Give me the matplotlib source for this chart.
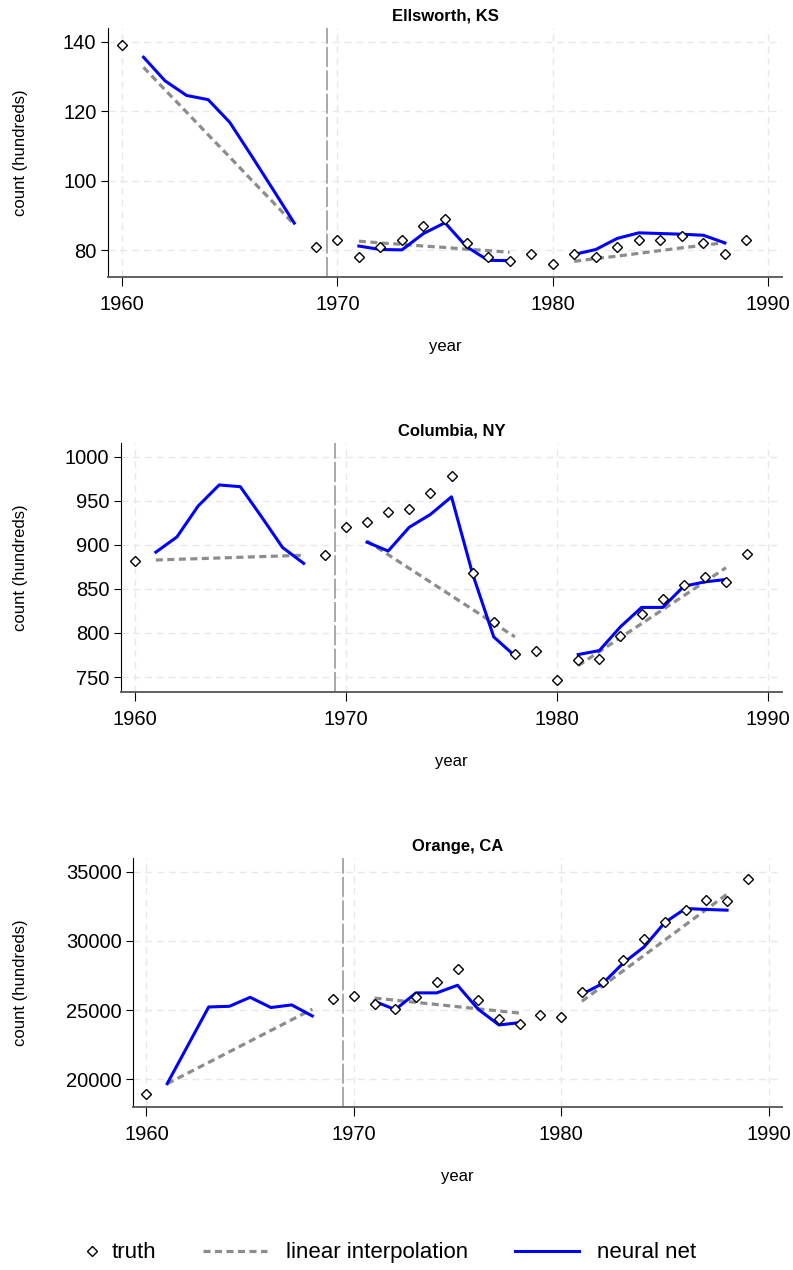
import numpy as np
import matplotlib
matplotlib.use("Agg")
import matplotlib.pyplot as plt
from matplotlib.lines import Line2D
from matplotlib.legend_handler import HandlerBase

plt.rcParams['font.family'] = ['Liberation Sans', 'DejaVu Sans']

nan = np.nan
years = np.arange(1960, 1990)

titles = ["Ellsworth, KS", "Columbia, NY", "Orange, CA"]
ylabel = "count (hundreds)"
xlabel = "year"
x_ticks = [1960, 1970, 1980, 1990]
break_year = 1969.5

# --- Ellsworth, KS ---
ellsworth_truth = [139, nan, nan, nan, nan, nan, nan, nan, nan, 81,
                   83, 78, 81, 83, 87, 89, 82, 78, 77, 79,
                   76, 79, 78, 81, 83, 83, 84, 82, 79, 83]
ellsworth_interp = [nan, 132.6, 126.1, 119.7, 113.2, 106.8, 100.3, 93.9, 87.4, nan,
                    nan, 82.6, 82.1, 81.7, 81.2, 80.8, 80.3, 79.9, 79.4, nan,
                    nan, 76.8, 77.6, 78.3, 79.1, 79.9, 80.7, 81.4, 82.2, nan]
ellsworth_nn = [nan, 135.5, 128.7, 124.5, 123.3, 116.8, 107.3, 97.6, 87.8, nan,
                nan, 81.2, 80.2, 80.1, 84.8, 87.9, 81.0, 77.1, 77.0, nan,
                nan, 78.8, 80.2, 83.4, 85.0, 84.8, 84.6, 84.3, 82.1, nan]
ellsworth_yticks = [80, 100, 120, 140]

# --- Columbia, NY ---
columbia_truth = [882, nan, nan, nan, nan, nan, nan, nan, nan, 889,
                  920, 926, 937, 941, 959, 978, 868, 812, 776, 780,
                  747, 769, 770, 797, 822, 838, 854, 864, 858, 890]
columbia_interp = [nan, 882.8, 883.6, 884.3, 885.1, 885.9, 886.7, 887.4, 888.2, nan,
                   nan, 904.4, 888.9, 873.3, 857.8, 842.2, 826.7, 811.1, 795.6, nan,
                   nan, 762.9, 778.8, 794.7, 810.6, 826.4, 842.3, 858.2, 874.1, nan]
columbia_nn = [nan, 891.7, 909, 944, 968, 966, 932, 897, 879, nan,
               nan, 903, 893, 920, 934.5, 954.5, 867, 795.5, 774, nan,
               nan, 775.5, 780, 807, 829, 829, 853, 858, 860.7, nan]
columbia_yticks = [750, 800, 850, 900, 950, 1000]

# --- Orange, CA ---
orange_truth = [18915, nan, nan, nan, nan, nan, nan, nan, nan, 25840,
                26030, 25480, 25065, 25930, 27070, 27980, 25770, 24340, 23980, 24630,
                24535, 26295, 27070, 28610, 30130, 31340, 32230, 32950, 32880, 34495]
orange_interp = [nan, 19684, 20454, 21223, 21993, 22762, 23532, 24301, 25071, nan,
                 nan, 25874, 25719, 25563, 25408, 25252, 25097, 24941, 24786, nan,
                 nan, 25642, 26748, 27855, 28962, 30069, 31175, 32282, 33389, nan]
orange_nn = [nan, 19690, 22460, 25230, 25280, 25930, 25190, 25380, 24580, nan,
             nan, 25640, 25040, 26250, 26250, 26800, 25065, 23930, 24100, nan,
             nan, 26150, 26925, 28415, 29575, 31340, 32350, 32280, 32230, nan]
orange_yticks = [20000, 25000, 30000, 35000]

panels = [
    (ellsworth_truth, ellsworth_interp, ellsworth_nn, ellsworth_yticks, (72.3, 143.9)),
    (columbia_truth, columbia_interp, columbia_nn, columbia_yticks, (733, 1015.6)),
    (orange_truth, orange_interp, orange_nn, orange_yticks, (18000, 36000)),
]

W, H = 793, 1270
fig = plt.figure(figsize=(W / 100, H / 100), dpi=100)
fig.patch.set_facecolor("white")

# plot regions in pixels: left, right, top, bottom
boxes = [(108, 782, 28, 277), (121, 782, 443, 692), (133, 782, 858, 1107)]

grid_kw = dict(color="#e8e8e8", lw=1.0, ls=(0, (5, 3.5)), zorder=0)
truth_kw = dict(ls="none", marker="D", ms=5.0, mfc="white", mec="black", mew=1.0, zorder=5)
interp_kw = dict(color="#8c8c8c", lw=2.3, ls=(0, (2.2, 1.4)), zorder=3)
nn_kw = dict(color="#0000ff", lw=2.2, zorder=4)

for (truth, interp, nn, yt, ylim), title, (l, r, t, b) in zip(panels, titles, boxes):
    ax = fig.add_axes([l / W, 1 - b / H, (r - l) / W, (b - t) / H])
    ax.set_xlim(1959.35, 1990.65)
    ax.set_ylim(*ylim)
    ax.set_xticks(x_ticks)
    ax.set_yticks(yt)
    for xv in x_ticks:
        ax.axvline(xv, **grid_kw)
    for yv in yt:
        ax.axhline(yv, **grid_kw)
    ax.axvline(break_year, color="#9a9a9a", lw=1.2, ls=(0, (12, 2)), zorder=1)

    ax.plot(years, interp, **interp_kw)
    ax.plot(years, nn, **nn_kw)
    ax.plot(years, truth, **truth_kw)

    for side in ("top", "right"):
        ax.spines[side].set_visible(False)
    ax.spines["left"].set_color("black")
    ax.spines["left"].set_linewidth(0.8)
    ax.spines["bottom"].set_color("#606060")
    ax.spines["bottom"].set_linewidth(1.4)
    ax.tick_params(axis="x", direction="out", length=6.3, width=0.8, pad=6.5,
                   labelsize=14.5, colors="black")
    ax.tick_params(axis="y", direction="out", length=5.3, width=0.8, pad=3.0,
                   labelsize=14.5, colors="black")

    ax.set_title(title, fontsize=12, fontweight="bold", pad=5.3)
    ax.set_xlabel(xlabel, fontsize=12, labelpad=18.5)
    ax.set_ylabel(ylabel, fontsize=12)
    yc = 1 - (t + b) / 2 / H
    ax.yaxis.set_label_coords(0.035, yc, transform=fig.transFigure)


class RightDiamond(HandlerBase):
    """Legend key that places the marker at the right end of the key box."""

    def create_artists(self, legend, orig_handle, xdescent, ydescent,
                       width, height, fontsize, trans):
        x = -xdescent + width - 0.05 * fontsize
        y = (height - ydescent) / 2
        mk = Line2D([x], [y], ls="none", marker=orig_handle.get_marker(),
                    ms=orig_handle.get_markersize(), mfc="white", mec="black",
                    mew=orig_handle.get_markeredgewidth())
        mk.set_transform(trans)
        return [mk]


h_truth = Line2D([], [], **truth_kw)
h_interp = Line2D([], [], **interp_kw)
h_nn = Line2D([], [], **nn_kw)
fig.legend([h_truth, h_interp, h_nn], ["truth", "linear interpolation", "neural net"],
           loc="center", bbox_to_anchor=(0.4575, 0.0134), ncol=3, frameon=False,
           fontsize=16, handlelength=2.875, handletextpad=0.85, columnspacing=2.1,
           handler_map={h_truth: RightDiamond()})

fig.savefig("out.png", dpi=100, facecolor="white")
